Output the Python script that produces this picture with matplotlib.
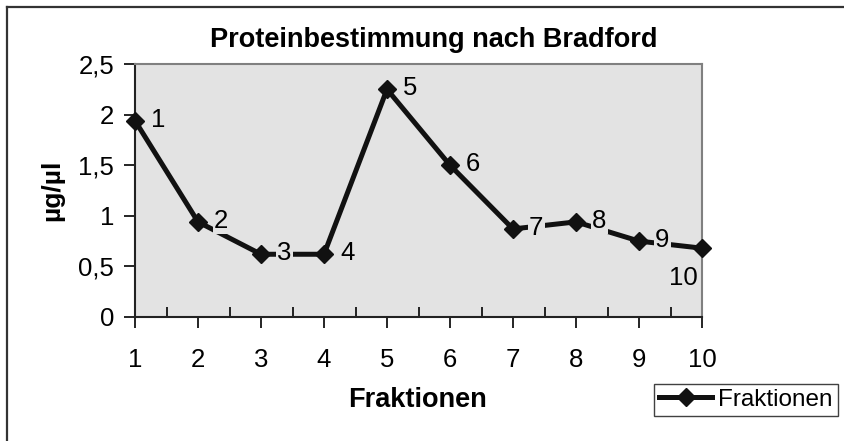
import matplotlib
matplotlib.use("Agg")
import matplotlib.pyplot as plt
from matplotlib.lines import Line2D
from matplotlib.ticker import MultipleLocator, FuncFormatter

plt.rcParams['font.family'] = ['Liberation Sans', 'DejaVu Sans']

fractions = [1, 2, 3, 4, 5, 6, 7, 8, 9, 10]
values = [1.94, 0.94, 0.62, 0.62, 2.25, 1.50, 0.87, 0.94, 0.75, 0.68]
labels = ["1", "2", "3", "4", "5", "6", "7", "8", "9", "10"]
y_ticks = [0, 0.5, 1.0, 1.5, 2.0, 2.5]

W, H = 845, 441
FS = 18.5
fig = plt.figure(figsize=(W / 100, H / 100), dpi=100)
ax = fig.add_axes([135 / W, 1 - 317 / H, (702 - 135) / W, (317 - 64) / H])
ax.set_facecolor('#E3E3E3')

ax.plot(fractions, values, color='#111111', lw=3.6, marker='D', ms=9.5,
        markerfacecolor='#111111', markeredgecolor='#111111', zorder=3,
        clip_on=False, label='Fraktionen')

for x, y, t in zip(fractions, values, labels):
    if t == "10":
        ax.annotate(t, (x, y), xytext=(-19, -30), textcoords='offset pixels',
                    ha='center', va='center', fontsize=FS, zorder=4,
                    bbox=dict(boxstyle='square,pad=0.05', fc='#E3E3E3', ec='none'))
    else:
        ax.annotate(t, (x, y), xytext=(16, 1), textcoords='offset pixels',
                    ha='left', va='center', fontsize=FS, zorder=4,
                    bbox=dict(boxstyle='square,pad=0.05', fc='#E3E3E3', ec='none'))

ax.set_xlim(1, 10)
ax.set_ylim(0, 2.5)
ax.set_xticks(fractions)
ax.set_xticklabels(labels)
ax.xaxis.set_minor_locator(MultipleLocator(0.5))
ax.set_yticks(y_ticks)
ax.yaxis.set_major_formatter(FuncFormatter(lambda v, p: ('%g' % v).replace('.', ',')))
ax.tick_params(axis='x', which='major', direction='out', length=8, width=1.2,
               labelsize=FS, pad=14)
ax.tick_params(axis='x', which='minor', direction='in', length=7, width=1.2)
ax.tick_params(axis='y', direction='out', length=8, width=1.2, labelsize=FS, pad=7)

for s in ['left', 'bottom']:
    ax.spines[s].set_color('#222222')
    ax.spines[s].set_linewidth(1.5)
for s in ['top', 'right']:
    ax.spines[s].set_color('#808080')
    ax.spines[s].set_linewidth(1.5)

fig.text(52 / W, 1 - 190 / H, 'µg/µl', rotation=90, ha='center', va='center',
         fontsize=19, fontweight='bold')
fig.text(418 / W, 1 - 400 / H, 'Fraktionen', ha='center', va='center',
         fontsize=19.5, fontweight='bold')
fig.text(434 / W, 1 - 40 / H, 'Proteinbestimmung nach Bradford', ha='center',
         va='center', fontsize=19.5, fontweight='bold')

# Chart border (left and top visible)
fig.add_artist(Line2D([7 / W, 7 / W], [0, 1 - 7 / H], transform=fig.transFigure,
                      color='#333333', lw=1.6))
fig.add_artist(Line2D([7 / W, 1], [1 - 7 / H, 1 - 7 / H], transform=fig.transFigure,
                      color='#333333', lw=1.6))

leg = fig.legend(loc='upper left', bbox_to_anchor=(654 / W, 1 - 384 / H),
                 fontsize=17.5, frameon=True, fancybox=False,
                 handlelength=2.2, handletextpad=0.25, borderpad=0.2, borderaxespad=0)
leg.get_frame().set_edgecolor('#111111')
leg.get_frame().set_linewidth(1.0)

fig.savefig('out.png', dpi=100)
